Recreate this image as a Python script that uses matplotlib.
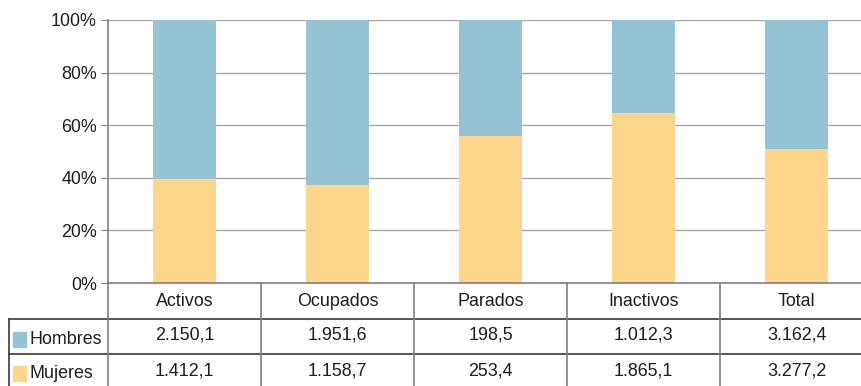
import matplotlib.pyplot as plt
import numpy as np
from matplotlib.patches import Rectangle

plt.rcParams['font.family'] = ['Liberation Sans', 'DejaVu Sans']

categorias = ["Activos", "Ocupados", "Parados", "Inactivos", "Total"]
hombres = [2150.1, 1951.6, 198.5, 1012.3, 3162.4]
mujeres = [1412.1, 1158.7, 253.4, 1865.1, 3277.2]
hombres_txt = ["2.150,1", "1.951,6", "198,5", "1.012,3", "3.162,4"]
mujeres_txt = ["1.412,1", "1.158,7", "253,4", "1.865,1", "3.277,2"]
series = [("Hombres", hombres_txt, "#97C4D4"), ("Mujeres", mujeres_txt, "#FDD68C")]

W, H = 862, 386
fig = plt.figure(figsize=(W / 100, H / 100), dpi=100)
fs = 12.9
tc = "#1E1E1E"

# plot area in pixels
x0, x1 = 108, 873
ytop, ybot = 20, 283
ax = fig.add_axes([x0 / W, (H - ybot) / H, (x1 - x0) / W, (ybot - ytop) / H])

h = np.array(hombres)
m = np.array(mujeres)
tot = h + m
pm = m / tot * 100
ph = h / tot * 100
x = np.arange(len(categorias))
ax.bar(x, pm, width=0.41, color="#FDD68C", zorder=3)
ax.bar(x, ph, bottom=pm, width=0.41, color="#97C4D4", zorder=3)

ax.set_xlim(-0.5, len(categorias) - 0.5)
ax.set_ylim(0, 100)
ax.set_yticks(range(0, 101, 20))
ax.set_yticklabels([f"{v}%" for v in range(0, 101, 20)], fontsize=fs, color=tc)
ax.set_xticks([])
ax.grid(axis="y", color="#A8A8A8", linewidth=1, zorder=0)
ax.tick_params(axis="y", length=5, color="#808080", pad=3)
for s in ["top", "right", "bottom"]:
    ax.spines[s].set_visible(False)
ax.spines["left"].set_color("#808080")
ax.spines["left"].set_linewidth(1.2)

# table below
tab = fig.add_axes([0, 0, 1, 1])
tab.set_xlim(0, W)
tab.set_ylim(H, 0)
tab.axis("off")

colw = (x1 - x0) / len(categorias)
rows = [283, 319, 354, 386]
head_base = 305.5
num_base = [340, 375.5]
lab_base = [344, 378.5]
dark = "#3A3A3A"
grey = "#808080"
tab.plot([x0, W], [rows[0], rows[0]], color=grey, lw=1.2)
tab.plot([9, W], [rows[1], rows[1]], color=dark, lw=1.2)
tab.plot([9, W], [rows[2], rows[2]], color=dark, lw=1.2)
tab.plot([9, 9], [rows[1], H], color=dark, lw=1.2)
for i in range(len(categorias) + 1):
    xv = x0 + i * colw
    tab.plot([xv, xv], [rows[0], H], color=grey, lw=1.2)

for i, c in enumerate(categorias):
    cx = x0 + (i + 0.5) * colw
    tab.text(cx, head_base, c, ha="center", va="baseline", fontsize=fs, color=tc)
    for r, (name, vals, col) in enumerate(series):
        tab.text(cx, num_base[r], vals[i], ha="center", va="baseline", fontsize=fs, color=tc)

for r, (name, vals, col) in enumerate(series):
    tab.add_patch(Rectangle((13, lab_base[r] - 12.5), 13, 15, color=col))
    tab.text(30, lab_base[r], name, ha="left", va="baseline", fontsize=fs, color=tc)

fig.savefig("out.png", dpi=100)
